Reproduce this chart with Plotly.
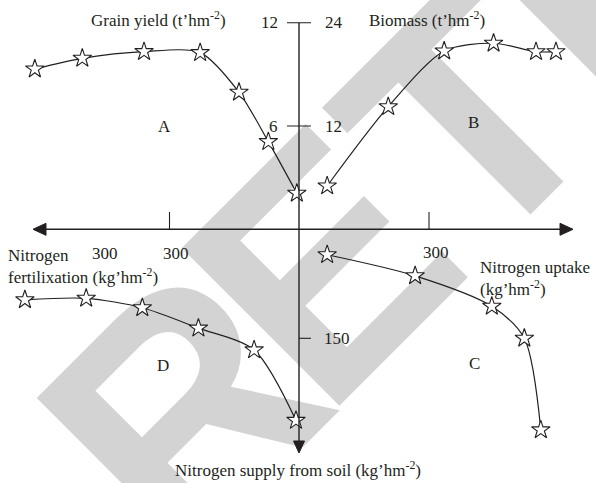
#
# Four-quadrant nitrogen diagram
#
import base64

import plotly.graph_objects as go

# quadrant A: nitrogen fertilization vs grain yield
fert_a = [612, 502, 359, 229, 139, 71, 5]
yield_a = [9.31, 9.93, 10.32, 10.26, 7.96, 5.09, 2.09]

# quadrant B: nitrogen uptake vs biomass
uptake_b = [65, 206, 335, 449, 547, 593]
biomass_b = [5.03, 14.24, 20.71, 21.61, 20.63, 20.63]

# quadrant C: nitrogen uptake vs nitrogen supply from soil
uptake_c = [65, 268, 445, 520, 558]
soil_c = [35, 64, 106, 150, 276]

# quadrant D: nitrogen fertilization vs nitrogen supply from soil
fert_d = [635, 493, 363, 233, 104, 7]
soil_d = [97, 95, 108, 136, 166, 263]

yield_ticks = [6, 12]
biomass_ticks = [12, 24]
soil_ticks = [150]
n_ticks = [300]

W, H = 596, 483
OX, OY = 299, 229.3          # where the two axes cross, in pixels
INK = "#231f20"
FONT = "Liberation Serif"


def px(x):
    return x / W


def py(y):
    return 1 - y / H


star = dict(symbol="star", size=14, color="white", line=dict(color=INK, width=1.1))
line = dict(color=INK, width=1.2, shape="spline", smoothing=0.8)

fig = go.Figure()
for xs, ys, xa, ya in [(fert_a, yield_a, "x", "y"),
                       (uptake_b, biomass_b, "x2", "y2"),
                       (uptake_c, soil_c, "x2", "y3"),
                       (fert_d, soil_d, "x", "y3")]:
    fig.add_trace(go.Scatter(x=xs, y=ys, xaxis=xa, yaxis=ya, mode="lines+markers",
                             line=line, marker=star, cliponaxis=False,
                             showlegend=False, hoverinfo="skip"))

hidden = dict(visible=False, fixedrange=True, autorange=False)
fig.update_layout(
    width=W, height=H,
    margin=dict(l=0, r=0, t=0, b=0),
    paper_bgcolor="white", plot_bgcolor="rgba(0,0,0,0)",
    xaxis=dict(domain=[0, px(OX)], range=[OX / 129.5 * 300, 0], anchor="y", **hidden),
    xaxis2=dict(domain=[px(OX), 1], range=[0, (W - OX) / 130 * 300], anchor="y2", **hidden),
    yaxis=dict(domain=[py(OY), 1], range=[0, OY / 103.3 * 6], anchor="x", **hidden),
    yaxis2=dict(domain=[py(OY), 1], range=[0, OY / 103.3 * 12], anchor="x2", **hidden),
    yaxis3=dict(domain=[0, py(OY)], range=[(H - OY) / 109 * 150, 0], anchor="x", **hidden),
)

# watermark, letter by letter
wm = ""
for ch, (x0, y0) in [("R", (179, 571)), ("E", (324, 421)), ("TRACTED", (477, 268))]:
    wm += (f'<text x="{x0}" y="{y0}" transform="rotate(-45 {x0} {y0})" '
           f'font-family="Liberation Sans" font-weight="bold" font-size="324" '
           f'fill="#d3d3d3">{ch}</text>')
svg = f'<svg xmlns="http://www.w3.org/2000/svg" width="{W}" height="{H}">{wm}</svg>'
fig.add_layout_image(source="data:image/svg+xml;base64," + base64.b64encode(svg.encode()).decode(),
                     xref="paper", yref="paper", x=0, y=1, sizex=1, sizey=1,
                     sizing="stretch", xanchor="left", yanchor="top", layer="below")

# cross axes with arrowheads
ax_line = dict(color=INK, width=1.4)
fig.add_shape(type="line", xref="paper", yref="paper", x0=px(40), x1=px(566),
              y0=py(OY), y1=py(OY), line=ax_line)
fig.add_shape(type="line", xref="paper", yref="paper", x0=px(OX), x1=px(OX),
              y0=py(22.7), y1=py(445), line=ax_line)
for pts in [[(33, OY), (46, OY - 6), (46, OY + 6)],
            [(573, OY), (560, OY - 6), (560, OY + 6)],
            [(OX, 453), (OX - 5.5, 441), (OX + 5.5, 441)]]:
    path = "M " + " L ".join(f"{px(a):.5f},{py(b):.5f}" for a, b in pts) + " Z"
    fig.add_shape(type="path", xref="paper", yref="paper", path=path,
                  fillcolor=INK, line=dict(color=INK, width=1))

# ticks
tick = dict(color=INK, width=1.1)
for v in yield_ticks:
    fig.add_shape(type="line", xref="paper", yref="y", x0=px(287), x1=px(311),
                  y0=v, y1=v, line=tick)
for v in soil_ticks:
    fig.add_shape(type="line", xref="paper", yref="y3", x0=px(OX), x1=px(311),
                  y0=v, y1=v, line=tick)
for xa in ["x", "x2"]:
    for v in n_ticks:
        fig.add_shape(type="line", xref=xa, yref="paper", x0=v, x1=v,
                      y0=py(212), y1=py(OY), line=tick)


def label(text, x, y, xanchor="center", **kw):
    fig.add_annotation(text=text, x=x, y=y, xanchor=xanchor, yanchor="middle",
                       showarrow=False, font=dict(family=FONT, size=17, color=INK), **kw)


for v in yield_ticks:
    label(str(v), px(280), v, xanchor="right", xref="paper", yref="y")
for v in biomass_ticks:
    label(str(v), px(323), v, xanchor="left", xref="paper", yref="y2")
for v in soil_ticks:
    label(str(v), px(322), v, xanchor="left", xref="paper", yref="y3")

label("300", px(105), py(253), xref="paper", yref="paper")
label("300", px(176), py(253), xref="paper", yref="paper")
label("300", px(436), py(252), xref="paper", yref="paper")

label("Grain yield (t’hm<sup>-2</sup>)", px(159), py(19), xref="paper", yref="paper")
label("Biomass (t’hm<sup>-2</sup>)", px(427), py(19), xref="paper", yref="paper")
label("A", px(164), py(126), xref="paper", yref="paper")
label("B", px(473), py(122), xref="paper", yref="paper")
label("C", px(474), py(363), xref="paper", yref="paper")
label("D", px(163), py(365), xref="paper", yref="paper")
label("Nitrogen<br>fertilixation (kg’hm<sup>-2</sup>)", px(6), py(266), xanchor="left",
      align="left", xref="paper", yref="paper")
label("Nitrogen uptake<br>(kg’hm<sup>-2</sup>)", px(478), py(278), xanchor="left",
      align="left", xref="paper", yref="paper")
label("Nitrogen supply from soil (kg’hm<sup>-2</sup>)", px(298), py(469),
      xref="paper", yref="paper")

fig.write_html("out.html", config={"displayModeBar": False})

# the page must start at the window's corner
with open("out.html", encoding="utf-8") as f:
    page = f.read()
page = page.replace("<body>", '<body style="margin:0">', 1)
with open("out.html", "w", encoding="utf-8") as f:
    f.write(page)
